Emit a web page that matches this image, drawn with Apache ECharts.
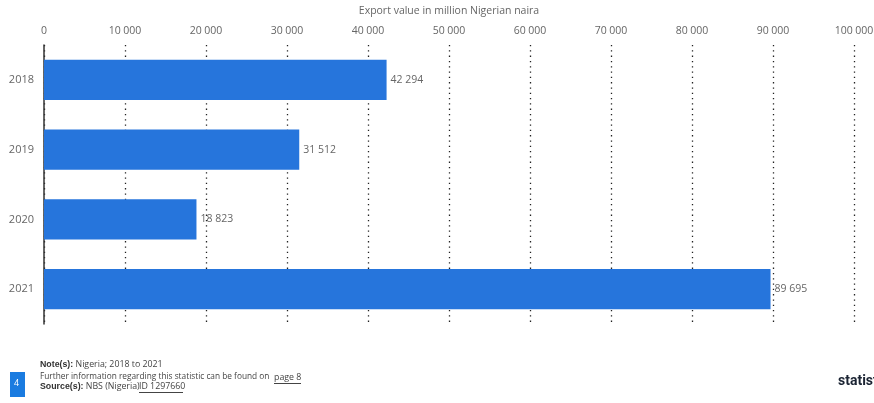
<!DOCTYPE html>
<html>
<head>
<meta charset="utf-8">
<script src="https://cdn.jsdelivr.net/npm/echarts@6/dist/echarts.min.js"></script>
<style>
  html, body { margin: 0; padding: 0; background: #fff; }
  #chart { width: 874px; height: 403px; }
</style>
</head>
<body>
<div id="chart"></div>
<script>
let years = ['2018', '2019', '2020', '2021'];
let exportValues = [42294, 31512, 18823, 89695];
let tickValues = [0, 10000, 20000, 30000, 40000, 50000, 60000, 70000, 80000, 90000, 100000];

// 12345 -> "12 345"
function fmt(v) {
  return String(v).replace(/\B(?=(\d{3})+(?!\d))/g, ' ');
}

let myChart = echarts.init(document.getElementById('chart'));
let font = '"Open Sans", sans-serif';
let option = {
  animation: false,
  textStyle: { fontFamily: font },
  grid: {
    left: 44,
    right: 20,
    top: 45,
    bottom: 79,
    outerBoundsMode: 'none'
  },
  xAxis: {
    type: 'value',
    position: 'top',
    min: tickValues[0],
    max: tickValues[tickValues.length - 1],
    interval: 10000,
    name: 'Export value in million Nigerian naira',
    nameLocation: 'middle',
    nameGap: 28,
    nameTextStyle: { color: '#666', fontSize: 10.5, fontFamily: font },
    axisLine: { show: false },
    axisTick: { show: false },
    axisLabel: {
      color: '#666',
      fontSize: 10.5,
      margin: 8,
      formatter: v => fmt(v)
    },
    splitLine: {
      show: true,
      lineStyle: { color: '#222', width: 1.3, type: [1.3, 4] }
    }
  },
  yAxis: {
    type: 'category',
    inverse: true,
    data: years,
    axisLine: { show: true, lineStyle: { color: '#333', width: 1.5 } },
    axisTick: { show: false },
    axisLabel: { color: '#666', fontSize: 11, margin: 10 }
  },
  series: [
    {
      type: 'bar',
      data: exportValues,
      barCategoryGap: '42%',
      itemStyle: { color: '#2675dc' },
      label: {
        show: true,
        position: 'right',
        distance: 4,
        color: '#666',
        fontSize: 10.5,
        formatter: p => fmt(p.value)
      }
    }
  ],
  graphic: [
    {
      type: 'text', left: 40, top: 360,
      style: { text: '{b|Note(s):} Nigeria; 2018 to 2021', fontSize: 8.8, fill: '#444', fontFamily: font,
        rich: { b: { fontWeight: 'bold', fontSize: 8.8, fill: '#333' } } }
    },
    {
      type: 'text', left: 40, top: 373,
      style: { text: 'Further information regarding this statistic can be found on', fontSize: 8.3, fill: '#444', fontFamily: font }
    },
    {
      type: 'text', left: 274, top: 373,
      style: { text: 'page 8', fontSize: 8.8, fill: '#444', fontFamily: font }
    },
    { type: 'rect', shape: { x: 274, y: 383, width: 27, height: 1 }, style: { fill: '#444' } },
    {
      type: 'text', left: 40, top: 382,
      style: { text: '{b|Source(s):} NBS (Nigeria)', fontSize: 8.8, fill: '#444', fontFamily: font,
        rich: { b: { fontWeight: 'bold', fontSize: 8.8, fill: '#333' } } }
    },
    {
      type: 'text', left: 139, top: 382,
      style: { text: 'ID 1297660', fontSize: 8.8, fill: '#444', fontFamily: font }
    },
    { type: 'rect', shape: { x: 139, y: 392, width: 44, height: 1 }, style: { fill: '#444' } },
    { type: 'rect', shape: { x: 10, y: 372, width: 15, height: 25 }, style: { fill: '#1a7be0' } },
    {
      type: 'text', left: 14, top: 379,
      style: { text: '4', fontSize: 9, fill: '#fff', fontFamily: font }
    },
    {
      type: 'text', left: 838, top: 374,
      style: { text: 'statista', fontSize: 14, fontWeight: 'bold', fill: '#1b2433', fontFamily: '"Liberation Sans Narrow", "Roboto", sans-serif' }
    }
  ]
};
myChart.setOption(option);
</script>
</body>
</html>
